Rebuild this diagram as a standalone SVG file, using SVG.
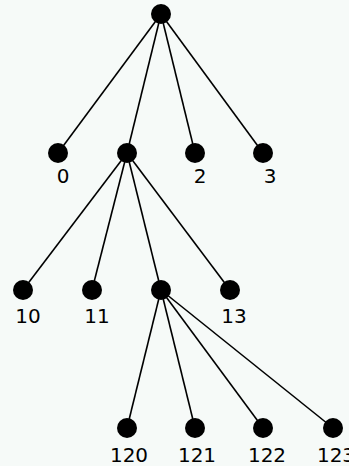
<svg xmlns="http://www.w3.org/2000/svg" width="349" height="466" viewBox="0 0 349 466">
<style>
.e{stroke:#000;stroke-width:1.6;fill:none}
.n{fill:#000}
.t{font-family:"DejaVu Sans",sans-serif;font-size:20px;fill:#000;text-anchor:middle}
</style>
<rect width="349" height="466" fill="#f6faf8"/>
<g id="connectors">
<line class="e" x1="161" y1="14" x2="58" y2="153"/>
<line class="e" x1="161" y1="14" x2="127" y2="153"/>
<line class="e" x1="161" y1="14" x2="195" y2="153"/>
<line class="e" x1="161" y1="14" x2="263" y2="153"/>
<line class="e" x1="127" y1="153" x2="23" y2="290"/>
<line class="e" x1="127" y1="153" x2="92" y2="290"/>
<line class="e" x1="127" y1="153" x2="161" y2="290"/>
<line class="e" x1="127" y1="153" x2="230" y2="290"/>
<line class="e" x1="161" y1="290" x2="127" y2="428"/>
<line class="e" x1="161" y1="290" x2="195" y2="428"/>
<line class="e" x1="161" y1="290" x2="263" y2="428"/>
<line class="e" x1="161" y1="290" x2="333" y2="428"/>
</g>
<g id="root"><circle class="n" cx="161" cy="14" r="10"/></g>
<g id="n0"><circle class="n" cx="58" cy="153" r="10"/><text class="t" x="63" y="183">0</text></g>
<g id="n1"><circle class="n" cx="127" cy="153" r="10"/></g>
<g id="n2"><circle class="n" cx="195" cy="153" r="10"/><text class="t" x="200" y="183">2</text></g>
<g id="n3"><circle class="n" cx="263" cy="153" r="10"/><text class="t" x="270" y="183">3</text></g>
<g id="n10"><circle class="n" cx="23" cy="290" r="10"/><text class="t" x="28" y="323">10</text></g>
<g id="n11"><circle class="n" cx="92" cy="290" r="10"/><text class="t" x="97" y="323">11</text></g>
<g id="n12"><circle class="n" cx="161" cy="290" r="10"/></g>
<g id="n13"><circle class="n" cx="230" cy="290" r="10"/><text class="t" x="234" y="323">13</text></g>
<g id="n120"><circle class="n" cx="127" cy="428" r="10"/><text class="t" x="129" y="462">120</text></g>
<g id="n121"><circle class="n" cx="195" cy="428" r="10"/><text class="t" x="197" y="462">121</text></g>
<g id="n122"><circle class="n" cx="263" cy="428" r="10"/><text class="t" x="267" y="462">122</text></g>
<g id="n123"><circle class="n" cx="333" cy="428" r="10"/><text class="t" x="336" y="462">123</text></g>
</svg>
